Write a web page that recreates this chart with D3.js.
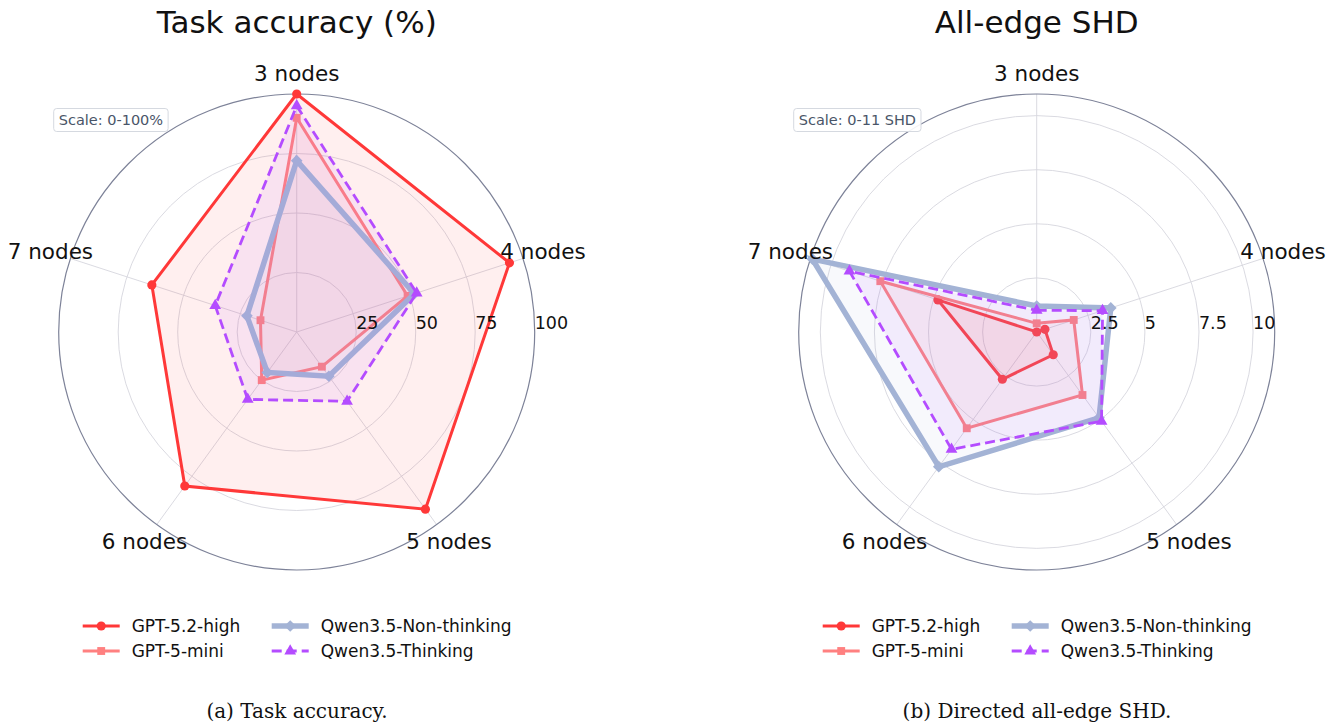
<!DOCTYPE html>
<html>
<head>
<meta charset="utf-8">
<script src="https://cdn.jsdelivr.net/npm/d3@7"></script>
<style>
  body { margin: 0; background: #fff; }
  svg { display: block; }
</style>
</head>
<body>
<svg id="chart" width="1336" height="727"></svg>
<script>
// categories and series
const axisLabels = ['3 nodes', '4 nodes', '5 nodes', '6 nodes', '7 nodes'];
const seriesNames = ['GPT-5.2-high', 'GPT-5-mini', 'Qwen3.5-Non-thinking', 'Qwen3.5-Thinking'];

const accGpt52High = [100, 94, 92, 80, 64];
const accGpt5Mini = [90, 49, 18, 25, 16];
const accQwenNon = [72, 52, 23, 21, 22];
const accQwenThink = [95, 53, 36, 35, 36];

const shdGpt52High = [0, 0.4, 1.3, 2.7, 4.8];
const shdGpt5Mini = [0.4, 1.8, 3.6, 5.5, 7.6];
const shdQwenNon = [1.2, 3.6, 4.9, 7.7, 10.9];
const shdQwenThink = [1.0, 3.2, 5.1, 6.7, 9.1];

const accTicks = [25, 50, 75, 100];
const shdTicks = [2.5, 5, 7.5, 10];
const accTickText = ['25', '50', '75', '100'];
const shdTickText = ['2.5', '5', '7.5', '10'];

var styles = [
  { color: '#ff3838', width: 3, dash: null, symbol: 'circle' },
  { color: '#ff8080', width: 3, dash: null, symbol: 'square' },
  { color: '#a3b3d5', width: 5.5, dash: null, symbol: 'diamond' },
  { color: '#b44cff', width: 2.8, dash: '10,5', symbol: 'triangle' }
];

var radius = 238;
var svg = d3.select('#chart');

function symbolPath(kind) {
  if (kind == 'circle') return d3.symbol().type(d3.symbolCircle).size(66)();
  if (kind == 'square') return d3.symbol().type(d3.symbolSquare).size(62)();
  if (kind == 'diamond') return d3.symbol().type(d3.symbolSquare).size(68)();
  return d3.symbol().type(d3.symbolTriangle).size(60)();
}

function symbolRotate(kind) {
  return kind == 'diamond' ? 45 : 0;
}

function drawRadar(cx, cy, maxValue, ticks, tickText, seriesList, title, scaleText, caption, captionX) {
  var r = d3.scaleLinear().domain([0, maxValue]).range([0, radius]);
  var angle = d3.scalePoint().domain(axisLabels).range([0, 2 * Math.PI * 4 / 5]);
  var g = svg.append('g').attr('transform', 'translate(' + cx + ',' + cy + ')');

  // grid rings
  g.selectAll('circle.ring').data(ticks.filter(t => r(t) < radius - 1)).enter().append('circle')
    .attr('class', 'ring')
    .attr('r', d => r(d))
    .attr('fill', 'none')
    .attr('stroke', '#d6d6de')
    .attr('stroke-width', 0.9);

  // spokes
  g.selectAll('line.spoke').data(axisLabels).enter().append('line')
    .attr('class', 'spoke')
    .attr('x1', 0).attr('y1', 0)
    .attr('x2', d => radius * Math.sin(angle(d)))
    .attr('y2', d => -radius * Math.cos(angle(d)))
    .attr('stroke', '#d6d6de')
    .attr('stroke-width', 0.9);

  // outer spine
  g.append('circle')
    .attr('r', radius)
    .attr('fill', 'none')
    .attr('stroke', '#7d8298')
    .attr('stroke-width', 1.2);

  var line = d3.lineRadial()
    .angle((d, i) => angle(axisLabels[i]))
    .radius(d => r(d))
    .curve(d3.curveLinearClosed);

  seriesList.forEach(function(values, idx) {
    var st = styles[idx];
    g.append('path')
      .attr('d', line(values))
      .attr('fill', st.color)
      .attr('fill-opacity', 0.08)
      .attr('stroke', 'none');
    g.append('path')
      .attr('d', line(values))
      .attr('fill', 'none')
      .attr('stroke', st.color)
      .attr('stroke-width', st.width)
      .attr('stroke-linejoin', 'miter')
      .attr('stroke-dasharray', st.dash);
    g.selectAll(null).data(values).enter().append('path')
      .attr('d', symbolPath(st.symbol))
      .attr('fill', st.color)
      .attr('transform', (d, i) => 'translate(' + (r(d) * Math.sin(angle(axisLabels[i]))) + ',' + (-r(d) * Math.cos(angle(axisLabels[i]))) + ') rotate(' + symbolRotate(st.symbol) + ')');
  });

  // radial tick labels
  g.selectAll('text.tick').data(ticks).enter().append('text')
    .attr('class', 'tick')
    .attr('x', d => r(d))
    .attr('y', -3)
    .attr('font-family', 'DejaVu Sans')
    .attr('font-size', 17.5)
    .attr('fill', '#111')
    .text((d, i) => tickText[i]);

  // category labels
  g.selectAll('text.cat').data(axisLabels).enter().append('text')
    .attr('class', 'cat')
    .attr('x', d => 259 * Math.sin(angle(d)))
    .attr('y', d => -259 * Math.cos(angle(d)))
    .attr('text-anchor', 'middle')
    .attr('dominant-baseline', 'central')
    .attr('font-family', 'DejaVu Sans')
    .attr('font-size', 21.5)
    .attr('fill', '#111')
    .text(d => d);

  // title
  svg.append('text')
    .attr('x', cx)
    .attr('y', 33)
    .attr('text-anchor', 'middle')
    .attr('font-family', 'DejaVu Sans')
    .attr('font-size', 31)
    .attr('fill', '#111')
    .text(title);

  // scale note box
  var note = svg.append('g').attr('transform', 'translate(' + (cx - 243) + ',108.5)');
  var noteRect = note.append('rect')
    .attr('height', 23)
    .attr('rx', 3)
    .attr('fill', '#fff')
    .attr('fill-opacity', 0.9)
    .attr('stroke', '#d5d9e0')
    .attr('stroke-width', 1);
  var noteText = note.append('text')
    .attr('x', 5)
    .attr('y', 16.5)
    .attr('font-family', 'DejaVu Sans')
    .attr('font-size', 14.5)
    .attr('fill', '#4a5568')
    .text(scaleText);
  noteRect.attr('width', noteText.node().getComputedTextLength() + 10);

  // legend
  var legend = svg.append('g').attr('transform', 'translate(' + (cx - 214) + ',626)');
  seriesNames.forEach(function(name, idx) {
    var st = styles[idx];
    var col = Math.floor(idx / 2), row = idx % 2;
    var item = legend.append('g').attr('transform', 'translate(' + (col * 189) + ',' + (row * 25) + ')');
    item.append('line')
      .attr('x1', 0).attr('x2', 37).attr('y1', 0).attr('y2', 0)
      .attr('stroke', st.color)
      .attr('stroke-width', st.width)
      .attr('stroke-dasharray', st.dash);
    item.append('path')
      .attr('d', symbolPath(st.symbol))
      .attr('fill', st.color)
      .attr('transform', 'translate(18.5,0) rotate(' + symbolRotate(st.symbol) + ')');
    item.append('text')
      .attr('x', 49)
      .attr('y', 0)
      .attr('dominant-baseline', 'central')
      .attr('font-family', 'DejaVu Sans')
      .attr('font-size', 17)
      .attr('fill', '#111')
      .text(name);
  });

  // caption
  svg.append('text')
    .attr('x', captionX)
    .attr('y', 718)
    .attr('text-anchor', 'middle')
    .attr('font-family', 'DejaVu Serif')
    .attr('font-size', 20)
    .attr('fill', '#111')
    .text(caption);
}

drawRadar(296.7, 332, 100, accTicks, accTickText,
  [accGpt52High, accGpt5Mini, accQwenNon, accQwenThink],
  'Task accuracy (%)', 'Scale: 0-100%', '(a) Task accuracy.', 297);

drawRadar(1036.7, 332, 11, shdTicks, shdTickText,
  [shdGpt52High, shdGpt5Mini, shdQwenNon, shdQwenThink],
  'All-edge SHD', 'Scale: 0-11 SHD', '(b) Directed all-edge SHD.', 1037);
</script>
</body>
</html>
